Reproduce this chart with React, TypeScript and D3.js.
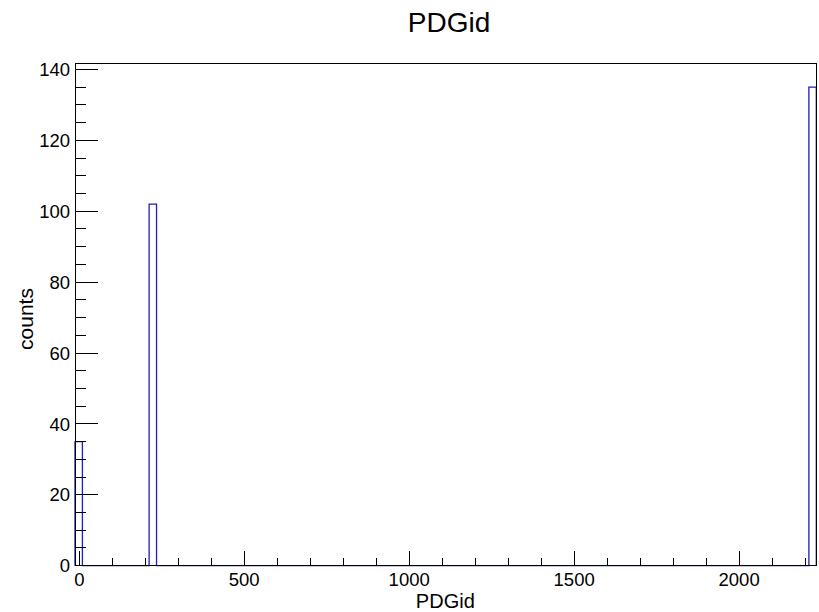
import React from "react";
import * as d3 from "d3";

const title = "PDGid";
const xTitle = "PDGid";
const yTitle = "counts";
const xMin = -13;
const xMax = 2234;
const yMax = 141.75;
// 100 bins
const counts: number[] = [
  35, 0, 0, 0, 0, 0, 0, 0, 0, 0, 102, 0, 0, 0, 0, 0, 0, 0, 0, 0,
  0, 0, 0, 0, 0, 0, 0, 0, 0, 0, 0, 0, 0, 0, 0, 0, 0, 0, 0, 0,
  0, 0, 0, 0, 0, 0, 0, 0, 0, 0, 0, 0, 0, 0, 0, 0, 0, 0, 0, 0,
  0, 0, 0, 0, 0, 0, 0, 0, 0, 0, 0, 0, 0, 0, 0, 0, 0, 0, 0, 0,
  0, 0, 0, 0, 0, 0, 0, 0, 0, 0, 0, 0, 0, 0, 0, 0, 0, 0, 0, 135,
];
const xMajorTicks = [0, 500, 1000, 1500, 2000];
const xMinorTicks = [100, 200, 300, 400, 600, 700, 800, 900, 1100, 1200, 1300, 1400, 1600, 1700, 1800, 1900, 2100, 2200];
const yMajorTicks = [0, 20, 40, 60, 80, 100, 120, 140];

const W = 819, H = 612;
const L = 75, R = 816.3, T = 63.3, B = 565.7;
const FONT = "'Liberation Sans', Arial, Helvetica, sans-serif";

export default function App() {
  const x = d3.scaleLinear().domain([xMin, xMax]).range([L, R]);
  const y = d3.scaleLinear().domain([0, yMax]).range([B, T]);
  const nb = counts.length;
  const bw = (xMax - xMin) / nb;
  let path = `M${x(xMin)},${y(0)}`;
  counts.forEach((c, i) => {
    const x0 = xMin + i * bw, x1 = xMin + (i + 1) * bw;
    path += `L${x(x0)},${y(c)}L${x(x1)},${y(c)}`;
  });
  path += `L${x(xMax)},${y(0)}`;
  const yMinor = d3.range(0, yMax, 5).filter((v) => v % 20 !== 0);
  return (
    <svg width={W} height={H} style={{ position: "absolute", left: 0, top: 0, background: "#fff" }} fontFamily={FONT}>
      <rect x={0} y={0} width={W} height={H} fill="#fff" />
      <path d={path} fill="none" stroke="#1f1fb5" strokeWidth={1.3} />
      <g stroke="#000" strokeWidth={1} shapeRendering="crispEdges">
        <rect x={L} y={T} width={R - L} height={B - T} fill="none" />
        {xMajorTicks.map((v) => (
          <line key={"xm" + v} x1={x(v)} x2={x(v)} y1={B} y2={B - 14.7} />
        ))}
        {xMinorTicks.map((v) => (
          <line key={"xn" + v} x1={x(v)} x2={x(v)} y1={B} y2={B - 7.3} />
        ))}
        {yMajorTicks.map((v) => (
          <line key={"ym" + v} x1={L} x2={L + 22.7} y1={y(v)} y2={y(v)} />
        ))}
        {yMinor.map((v) => (
          <line key={"yn" + v} x1={L} x2={L + 11.3} y1={y(v)} y2={y(v)} />
        ))}
      </g>
      <g fontSize={18.5} fill="#000">
        {xMajorTicks.map((v) => (
          <text key={"xl" + v} x={x(v)} y={586} textAnchor="middle">{v}</text>
        ))}
        {yMajorTicks.map((v) => (
          <text key={"yl" + v} x={70} y={y(v) + 6.6} textAnchor="end">{v}</text>
        ))}
      </g>
      <text x={449} y={31.7} fontSize={28} textAnchor="middle">{title}</text>
      <text x={445.3} y={608} fontSize={20} textAnchor="middle">{xTitle}</text>
      <text transform={`translate(33,319) rotate(-90)`} fontSize={21} textAnchor="middle">{yTitle}</text>
    </svg>
  );
}
